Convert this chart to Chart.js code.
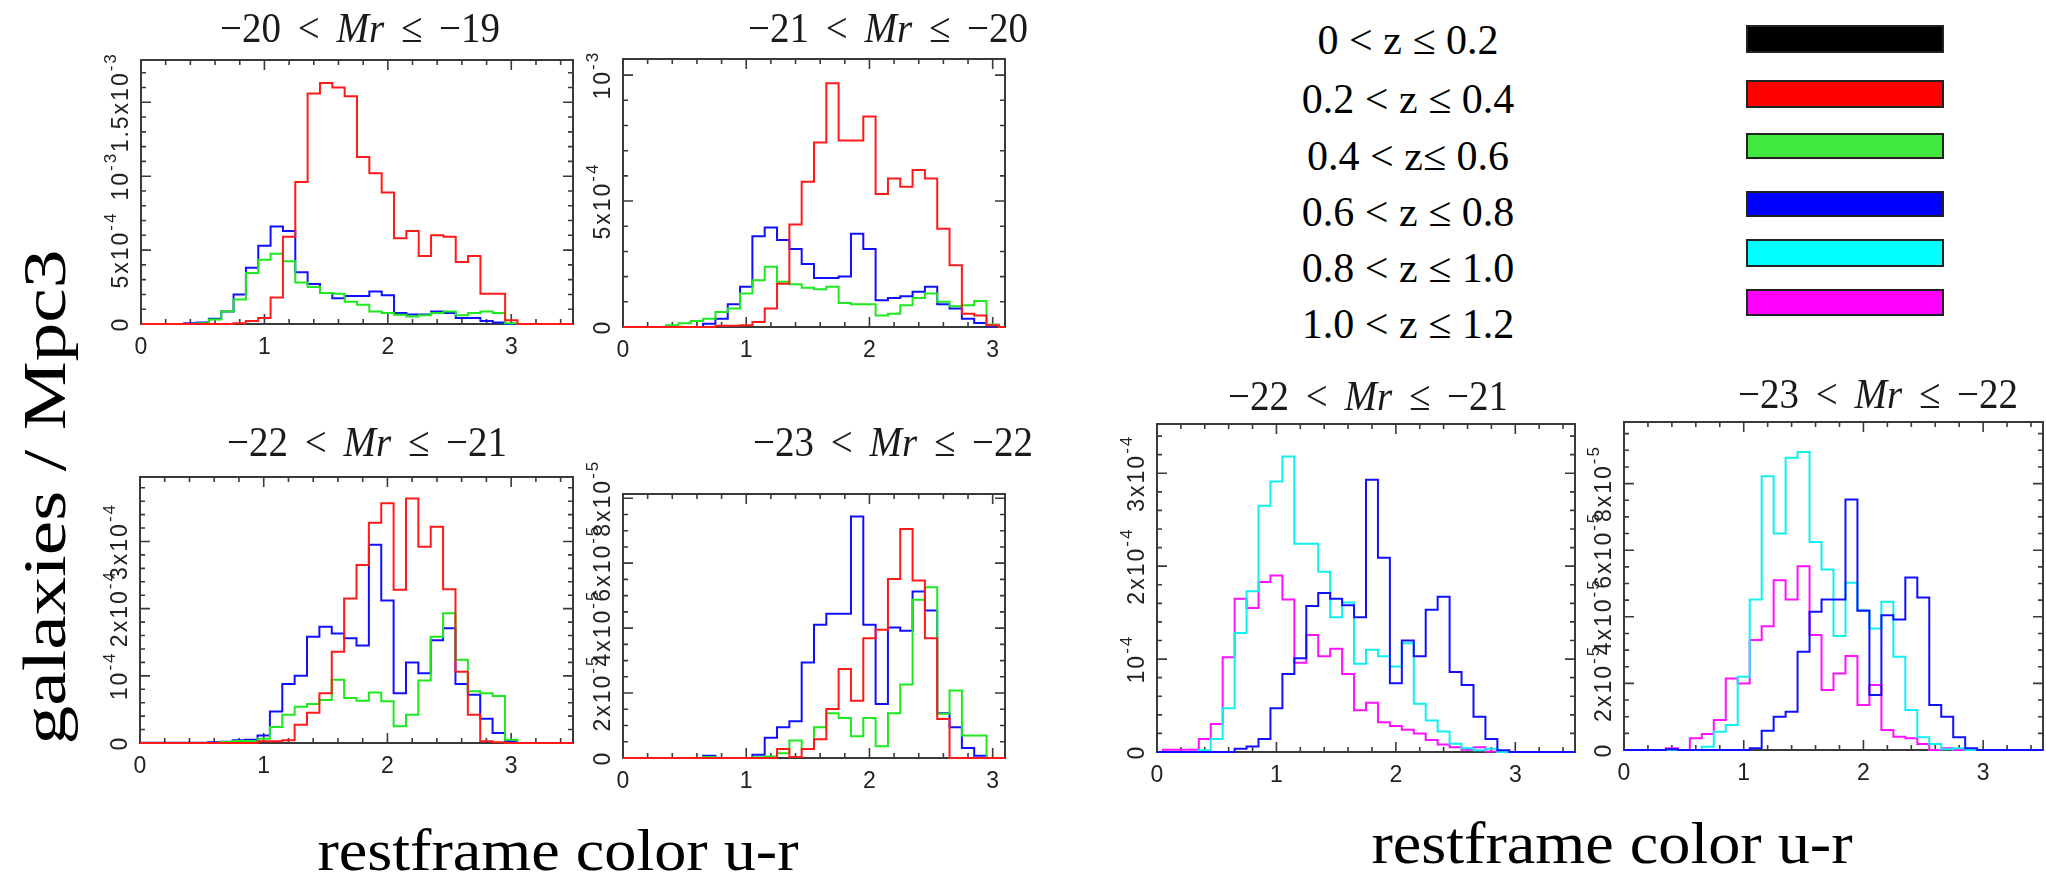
<!DOCTYPE html>
<html>
<head>
<meta charset="utf-8">
<script src="https://cdn.jsdelivr.net/npm/chart.js@4.4.1/dist/chart.umd.min.js"></script>
<style>
body { margin:0; background:#fff; }
#fig { position:relative; width:2046px; height:875px; overflow:hidden; background:#fff; font-family:"Liberation Serif", "Times New Roman", serif; }
#fig canvas { position:absolute; }
.ptitle { position:absolute; font-size:39px; color:#1a1a1a; white-space:nowrap; word-spacing:7px; line-height:1; transform:translate(-50%, -50%) scaleY(1.08); }
.ylab { position:absolute; font-size:62px; white-space:nowrap; line-height:1; transform:translate(-50%, -50%) rotate(-90deg) scaleX(1.25); }
.xlab { position:absolute; font-size:60px; white-space:nowrap; line-height:1; transform:translateX(-50%) scaleX(1.07); }
.zlab { position:absolute; font-size:42px; white-space:nowrap; line-height:1; transform:translateX(-50%); }
.zbox { position:absolute; box-sizing:border-box; border:2px solid #222; }
</style>
</head>
<body>
<div id="fig"></div>
<script>
// restframe u-r bin centres (bins are 0.1 wide)
var colorBins = [0.0,0.1,0.2,0.3,0.4,0.5,0.6,0.7,0.8,0.9,1.0,1.1,1.2,1.3,1.4,1.5,1.6,1.7,1.8,1.9,
                 2.0,2.1,2.2,2.3,2.4,2.5,2.6,2.7,2.8,2.9,3.0,3.1,3.2,3.3,3.4,3.5];
var xTicks = [0, 1, 2, 3];

// -20 < Mr <= -19, units of 1e-4
var p1Red   = [0,0,0,0,0,0,0,0,0.05,0.2, 0.4,1.8,5.9,9.6,15.6,16.3,16.0,15.4,11.3,10.2, 8.9,5.8,6.3,4.6,6.0,5.9,4.2,4.6,2.05,2.05, 0.25,0,0,0,0,0];
var p1Green = [0,0,0,0,0,0.05,0.3,0.85,1.65,3.45, 4.35,4.75,4.25,2.8,2.5,2.1,2.05,1.5,1.3,0.85, 0.75,0.63,0.5,0.6,0.75,0.85,0.6,0.75,0.85,0.75, 0.05,0,0,0,0,0];
var p1Blue  = [0,0,0,0,0.05,0.1,0.35,0.85,2.0,3.8, 5.3,6.6,6.3,3.5,2.7,2.1,1.75,1.9,1.9,2.2, 1.95,0.75,0.65,0.65,0.85,0.75,0.4,0.4,0.2,0.1, 0,0,0,0,0,0];

// -21 < Mr <= -20, units of 1e-4
var p2Red   = [0,0,0,0,0,0,0,0,0.05,0.05, 0.07,0.2,0.73,1.72,4.07,5.77,7.32,9.68,7.4,7.4, 8.36,5.28,5.9,5.57,6.23,5.9,3.9,2.45,0.53,0.46, 0.07,0,0,0,0,0];
var p2Green = [0,0,0,0,0.07,0.15,0.24,0.33,0.6,0.73, 1.33,1.86,2.39,1.8,1.7,1.56,1.5,1.6,0.95,0.9, 0.9,0.46,0.53,0.86,1.15,1.33,1.0,0.82,0.86,1.03, 0.1,0,0,0,0,0];
var p2Blue  = [0,0,0,0,0,0,0,0.13,0.33,0.9, 1.6,3.6,3.95,3.45,3.1,2.5,1.95,1.95,2.0,3.7, 3.1,1.06,1.15,1.22,1.4,1.6,0.9,0.73,0.33,0.16, 0.03,0,0,0,0,0];

// -22 < Mr <= -21, units of 1e-5
var p3Red   = [0,0,0,0,0,0,0,0,0,0, 0.25,0.25,0.4,2.7,4.5,7.4,13.6,21.5,26.5,32.8, 35.7,22.8,36.4,29.2,32.2,22.9,10.6,4.2,0.25,0.1, 0,0,0,0,0,0];
var p3Green = [0,0,0,0,0,0,0,0.15,0.3,0.3, 0.65,2.4,4.2,5.4,5.8,6.4,9.4,6.7,6.3,7.5, 6.2,2.5,4.2,9.3,15.8,19.3,12.4,7.7,7.4,7.0, 0.5,0,0,0,0,0];
var p3Blue  = [0.05,0.05,0.05,0.05,0.05,0.05,0.1,0.2,0.4,0.5, 1.1,4.7,8.8,10.0,15.8,17.3,16.3,15.6,14.5,29.5, 21.2,7.4,12.0,10.4,15.3,17.1,8.8,7.2,3.6,1.5, 0.25,0,0,0,0,0];

// -23 < Mr <= -22, units of 1e-6
var p4Red   = [0,0,0,0,0,0,0,0,0,0, 0,0,0,2.8,0.3,2.8,5.8,15.1,27.4,17.6, 36.9,39.5,55.1,70.5,54.7,36.9,12.0,0,0,0, 0,0,0,0,0,0];
var p4Green = [0,0,0,0,0,0,0,0.3,0,0, 0,0.2,0.5,1.5,5.4,2.8,9.5,13.8,12.3,6.7, 12.3,3.6,13.8,22.6,48.7,52.6,13.6,20.8,6.9,6.9, 0,0,0,0,0,0];
var p4Blue  = [0,0,0,0,0,0,0,0.7,0,0, 0,1.0,6.2,9.5,11.3,29.4,41.0,44.4,44.4,74.4, 41.0,16.6,40.2,39.2,51.3,45.4,13.8,9.5,3.1,0.7, 0,0,0,0,0,0];

// -22 < Mr <= -21, high-z bins, units of 1e-5
var p5Blue    = [0,0,0,0,0,0,0,0.35,0.6,1.4, 4.7,8.4,10.1,15.7,17.1,16.5,15.8,14.5,29.3,20.9, 7.4,12.0,10.3,15.3,16.7,8.6,7.2,3.8,1.4,0.2, 0,0,0,0,0,0];
var p5Cyan    = [0,0,0,0,0.2,1.4,4.7,12.8,17.3,26.5, 29.1,31.8,22.4,22.4,19.4,14.5,16.1,9.5,11.0,10.3, 9.2,11.7,5.2,3.4,2.2,0.9,0.4,0.2,0.35,0, 0,0,0,0,0,0];
var p5Magenta = [0,0.25,0.25,0.25,1.4,3.0,10.2,16.5,15.5,18.3, 19.0,16.4,9.6,12.6,10.3,11.1,8.4,4.5,5.3,3.2, 2.8,2.4,2.0,1.3,0.8,0.5,0.25,0.5,0.05,0.05, 0,0,0,0,0,0];

// -23 < Mr <= -22, high-z bins, units of 1e-6
var p6Blue    = [0,0,0,0,0.2,0,0,0,0,0, 0,0.5,5.8,10,11.5,29.5,41.5,45.2,45.2,75.2, 41.8,16.5,40.5,39.2,51.8,45.8,13.5,10,3.8,0.5, 0,0,0,0,0,0];
var p6Cyan    = [0,0,0,0,0,0,0,1.0,5.5,7.5, 22,45.2,82.2,65,87.8,89.5,62.5,54.2,34.2,50.2, 42,36.5,44.5,28,12,3.8,1.8,0.2,0.5,0, 0,0,0,0,0,0];
var p6Magenta = [0,0,0,0,0.5,0,3.5,4.8,9,21.5, 20,33,37.2,51,45.2,55.2,34.5,18,23,28.2, 13.5,19.5,6,4,3.5,1.8,0,0.5,0,0, 0,0,0,0,0,0];

// labelled y ticks per panel
var p1YTicks = [0, 5e-4, 1e-3, 1.5e-3];
var p2YTicks = [0, 5e-4, 1e-3];
var p3YTicks = [0, 1e-4, 2e-4, 3e-4];
var p4YTicks = [0, 2e-5, 4e-5, 6e-5, 8e-5];
var p5YTicks = [0, 1e-4, 2e-4, 3e-4];
var p6YTicks = [0, 2e-5, 4e-5, 6e-5, 8e-5];

var zLabels = ['0 < z \u2264 0.2', '0.2 < z \u2264 0.4', '0.4 < z\u2264 0.6', '0.6 < z \u2264 0.8', '0.8 < z \u2264 1.0', '1.0 < z \u2264 1.2'];
var zColors = ['#000000', '#ff0000', '#40e840', '#0000ff', '#00ffff', '#ff00ff'];

var RED = '#ff1a1a', GREEN = '#1ee81e', BLUE = '#1010ff', CYAN = '#10f0f0', MAGENTA = '#ff10ff';

var panels = [
  { lo: '\u221220', hi: '\u221219', box: [141, 60, 573, 324], xMax: 3.5, yMax: 1.786e-3, unit: 1e-4, yTicks: p1YTicks, yMinor: 1e-4,
    titleAt: [360, 27], series: [[p1Red, RED], [p1Green, GREEN], [p1Blue, BLUE]] },
  { lo: '\u221221', hi: '\u221220', box: [623, 59, 1005, 327], xMax: 3.1, yMax: 1.064e-3, unit: 1e-4, yTicks: p2YTicks, yMinor: 1e-4,
    titleAt: [888, 27], series: [[p2Red, RED], [p2Green, GREEN], [p2Blue, BLUE]] },
  { lo: '\u221222', hi: '\u221221', box: [140, 477, 573, 743], xMax: 3.5, yMax: 3.96e-4, unit: 1e-5, yTicks: p3YTicks, yMinor: 2e-5,
    titleAt: [367, 441], series: [[p3Red, RED], [p3Green, GREEN], [p3Blue, BLUE]] },
  { lo: '\u221223', hi: '\u221222', box: [623, 494, 1005, 758], xMax: 3.1, yMax: 8.13e-5, unit: 1e-6, yTicks: p4YTicks, yMinor: 5e-6,
    titleAt: [893, 441], series: [[p4Red, RED], [p4Green, GREEN], [p4Blue, BLUE]] },
  { lo: '\u221222', hi: '\u221221', box: [1157, 424, 1575, 752], xMax: 3.5, yMax: 3.53e-4, unit: 1e-5, yTicks: p5YTicks, yMinor: 2e-5,
    titleAt: [1368, 395], series: [[p5Blue, BLUE], [p5Cyan, CYAN], [p5Magenta, MAGENTA]] },
  { lo: '\u221223', hi: '\u221222', box: [1624, 422, 2043, 750], xMax: 3.5, yMax: 9.85e-5, unit: 1e-6, yTicks: p6YTicks, yMinor: 5e-6,
    titleAt: [1878, 393], series: [[p6Blue, BLUE], [p6Cyan, CYAN], [p6Magenta, MAGENTA]] }
];

var TICK_FONT = '"Liberation Sans", Arial, sans-serif';
var TICK_SPACING = 2;

// "5x10" + "-4" style label pieces
function sciParts(v) {
  if (v === 0) return ['0', ''];
  var e = Math.floor(Math.log10(v) + 1e-9);
  var m = Math.round(v / Math.pow(10, e) * 10) / 10;
  return [(m === 1 ? '' : m + 'x') + '10', '-' + (-e)];
}

function spacedWidth(ctx, s) {
  return ctx.measureText(s).width + TICK_SPACING * s.length;
}

function drawSpaced(ctx, s, x, y) {
  for (var i = 0; i < s.length; i++) {
    ctx.fillText(s[i], x, y);
    x += ctx.measureText(s[i]).width + TICK_SPACING;
  }
}

function drawYLabel(ctx, x, y, parts) {
  ctx.save();
  ctx.translate(x, y);
  ctx.rotate(-Math.PI / 2);
  ctx.textAlign = 'left';
  ctx.textBaseline = 'alphabetic';
  ctx.font = '23px ' + TICK_FONT;
  var w1 = spacedWidth(ctx, parts[0]);
  ctx.font = '17px ' + TICK_FONT;
  var w2 = parts[1] ? spacedWidth(ctx, parts[1]) : 0;
  var x0 = -(w1 + w2) / 2;
  ctx.font = '23px ' + TICK_FONT;
  drawSpaced(ctx, parts[0], x0, 8);
  if (parts[1]) {
    ctx.font = '17px ' + TICK_FONT;
    drawSpaced(ctx, parts[1], x0 + w1, -4);
  }
  ctx.restore();
}

// IDL style box: frame, inward ticks on all four sides, sideways y labels
var idlFrame = {
  id: 'idlFrame',
  beforeDatasetsDraw: function (chart, args, opts) {
    var ctx = chart.ctx, a = chart.chartArea;
    var xs = chart.scales.x, ys = chart.scales.y;
    ctx.save();
    ctx.strokeStyle = '#3a3a3a';
    ctx.lineWidth = 2;
    ctx.strokeRect(a.left, a.top, a.right - a.left, a.bottom - a.top);
    ctx.lineWidth = 1.6;
    ctx.beginPath();
    for (var k = 0; k * 0.2 <= xs.max + 1e-9; k++) {
      var px = xs.getPixelForValue(k * 0.2);
      var len = (k % 5 === 0) ? 10 : 5;
      ctx.moveTo(px, a.bottom); ctx.lineTo(px, a.bottom - len);
      ctx.moveTo(px, a.top); ctx.lineTo(px, a.top + len);
    }
    var nMinor = Math.floor(ys.max / opts.yMinor + 1e-6);
    for (var j = 0; j <= nMinor; j++) {
      var v = j * opts.yMinor;
      var major = opts.yTicks.some(function (t) { return Math.abs(t - v) < opts.yMinor * 0.01; });
      var py = ys.getPixelForValue(v);
      var l2 = major ? 10 : 5;
      ctx.moveTo(a.left, py); ctx.lineTo(a.left + l2, py);
      ctx.moveTo(a.right, py); ctx.lineTo(a.right - l2, py);
    }
    ctx.stroke();

    ctx.fillStyle = '#222';
    ctx.font = '23px ' + TICK_FONT;
    ctx.textAlign = 'center';
    ctx.textBaseline = 'alphabetic';
    xTicks.forEach(function (t) {
      if (t <= xs.max) ctx.fillText(String(t), xs.getPixelForValue(t), a.bottom + 30);
    });
    opts.yTicks.forEach(function (t) {
      drawYLabel(ctx, a.left - 21, ys.getPixelForValue(t), sciParts(t));
    });
    ctx.restore();
  }
};

var fig = document.getElementById('fig');
var M = 46;

panels.forEach(function (p) {
  var b = p.box;
  var cv = document.createElement('canvas');
  cv.width = b[2] - b[0] + 2 * M;
  cv.height = b[3] - b[1] + 2 * M;
  cv.style.left = (b[0] - M) + 'px';
  cv.style.top = (b[1] - M) + 'px';
  fig.appendChild(cv);

  new Chart(cv, {
    type: 'line',
    data: {
      datasets: p.series.map(function (s) {
        return {
          data: colorBins.map(function (u, i) { return { x: u, y: s[0][i] * p.unit }; }),
          borderColor: s[1],
          borderWidth: 2,
          stepped: 'middle',
          pointRadius: 0,
          fill: false,
          clip: { left: 1, top: 1, right: 0, bottom: 2 }
        };
      })
    },
    options: {
      responsive: false,
      animation: false,
      layout: { padding: { left: M, top: M, right: M, bottom: M } },
      scales: {
        x: { type: 'linear', min: 0, max: p.xMax, display: false },
        y: { type: 'linear', min: 0, max: p.yMax, display: false }
      },
      plugins: {
        legend: { display: false },
        tooltip: { enabled: false },
        idlFrame: { yTicks: p.yTicks, yMinor: p.yMinor }
      }
    },
    plugins: [idlFrame]
  });

  var t = document.createElement('div');
  t.className = 'ptitle';
  t.innerHTML = p.lo + ' &lt; <i>Mr</i> \u2264 ' + p.hi;
  t.style.left = p.titleAt[0] + 'px';
  t.style.top = p.titleAt[1] + 'px';
  fig.appendChild(t);
});

// shared axis titles
var yl = document.createElement('div');
yl.className = 'ylab';
yl.textContent = 'galaxies / Mpc3';
yl.style.left = '44px';
yl.style.top = '497px';
fig.appendChild(yl);

[[558, 820], [1612, 813]].forEach(function (pos) {
  var d = document.createElement('div');
  d.className = 'xlab';
  d.textContent = 'restframe color u-r';
  d.style.left = pos[0] + 'px';
  d.style.top = pos[1] + 'px';
  fig.appendChild(d);
});

// redshift key
var zTextMid = [40, 99, 156, 212, 268, 324];
var zBoxRows = [[25, 53], [80, 108], [133, 159], [191, 217], [239, 267], [289, 316]];
zLabels.forEach(function (lab, i) {
  var d = document.createElement('div');
  d.className = 'zlab';
  d.textContent = lab;
  d.style.left = '1408px';
  d.style.top = (zTextMid[i] - 21) + 'px';
  fig.appendChild(d);

  var bx = document.createElement('div');
  bx.className = 'zbox';
  bx.style.left = '1746px';
  bx.style.width = '198px';
  bx.style.top = zBoxRows[i][0] + 'px';
  bx.style.height = (zBoxRows[i][1] - zBoxRows[i][0]) + 'px';
  bx.style.background = zColors[i];
  fig.appendChild(bx);
});
</script>
</body>
</html>
